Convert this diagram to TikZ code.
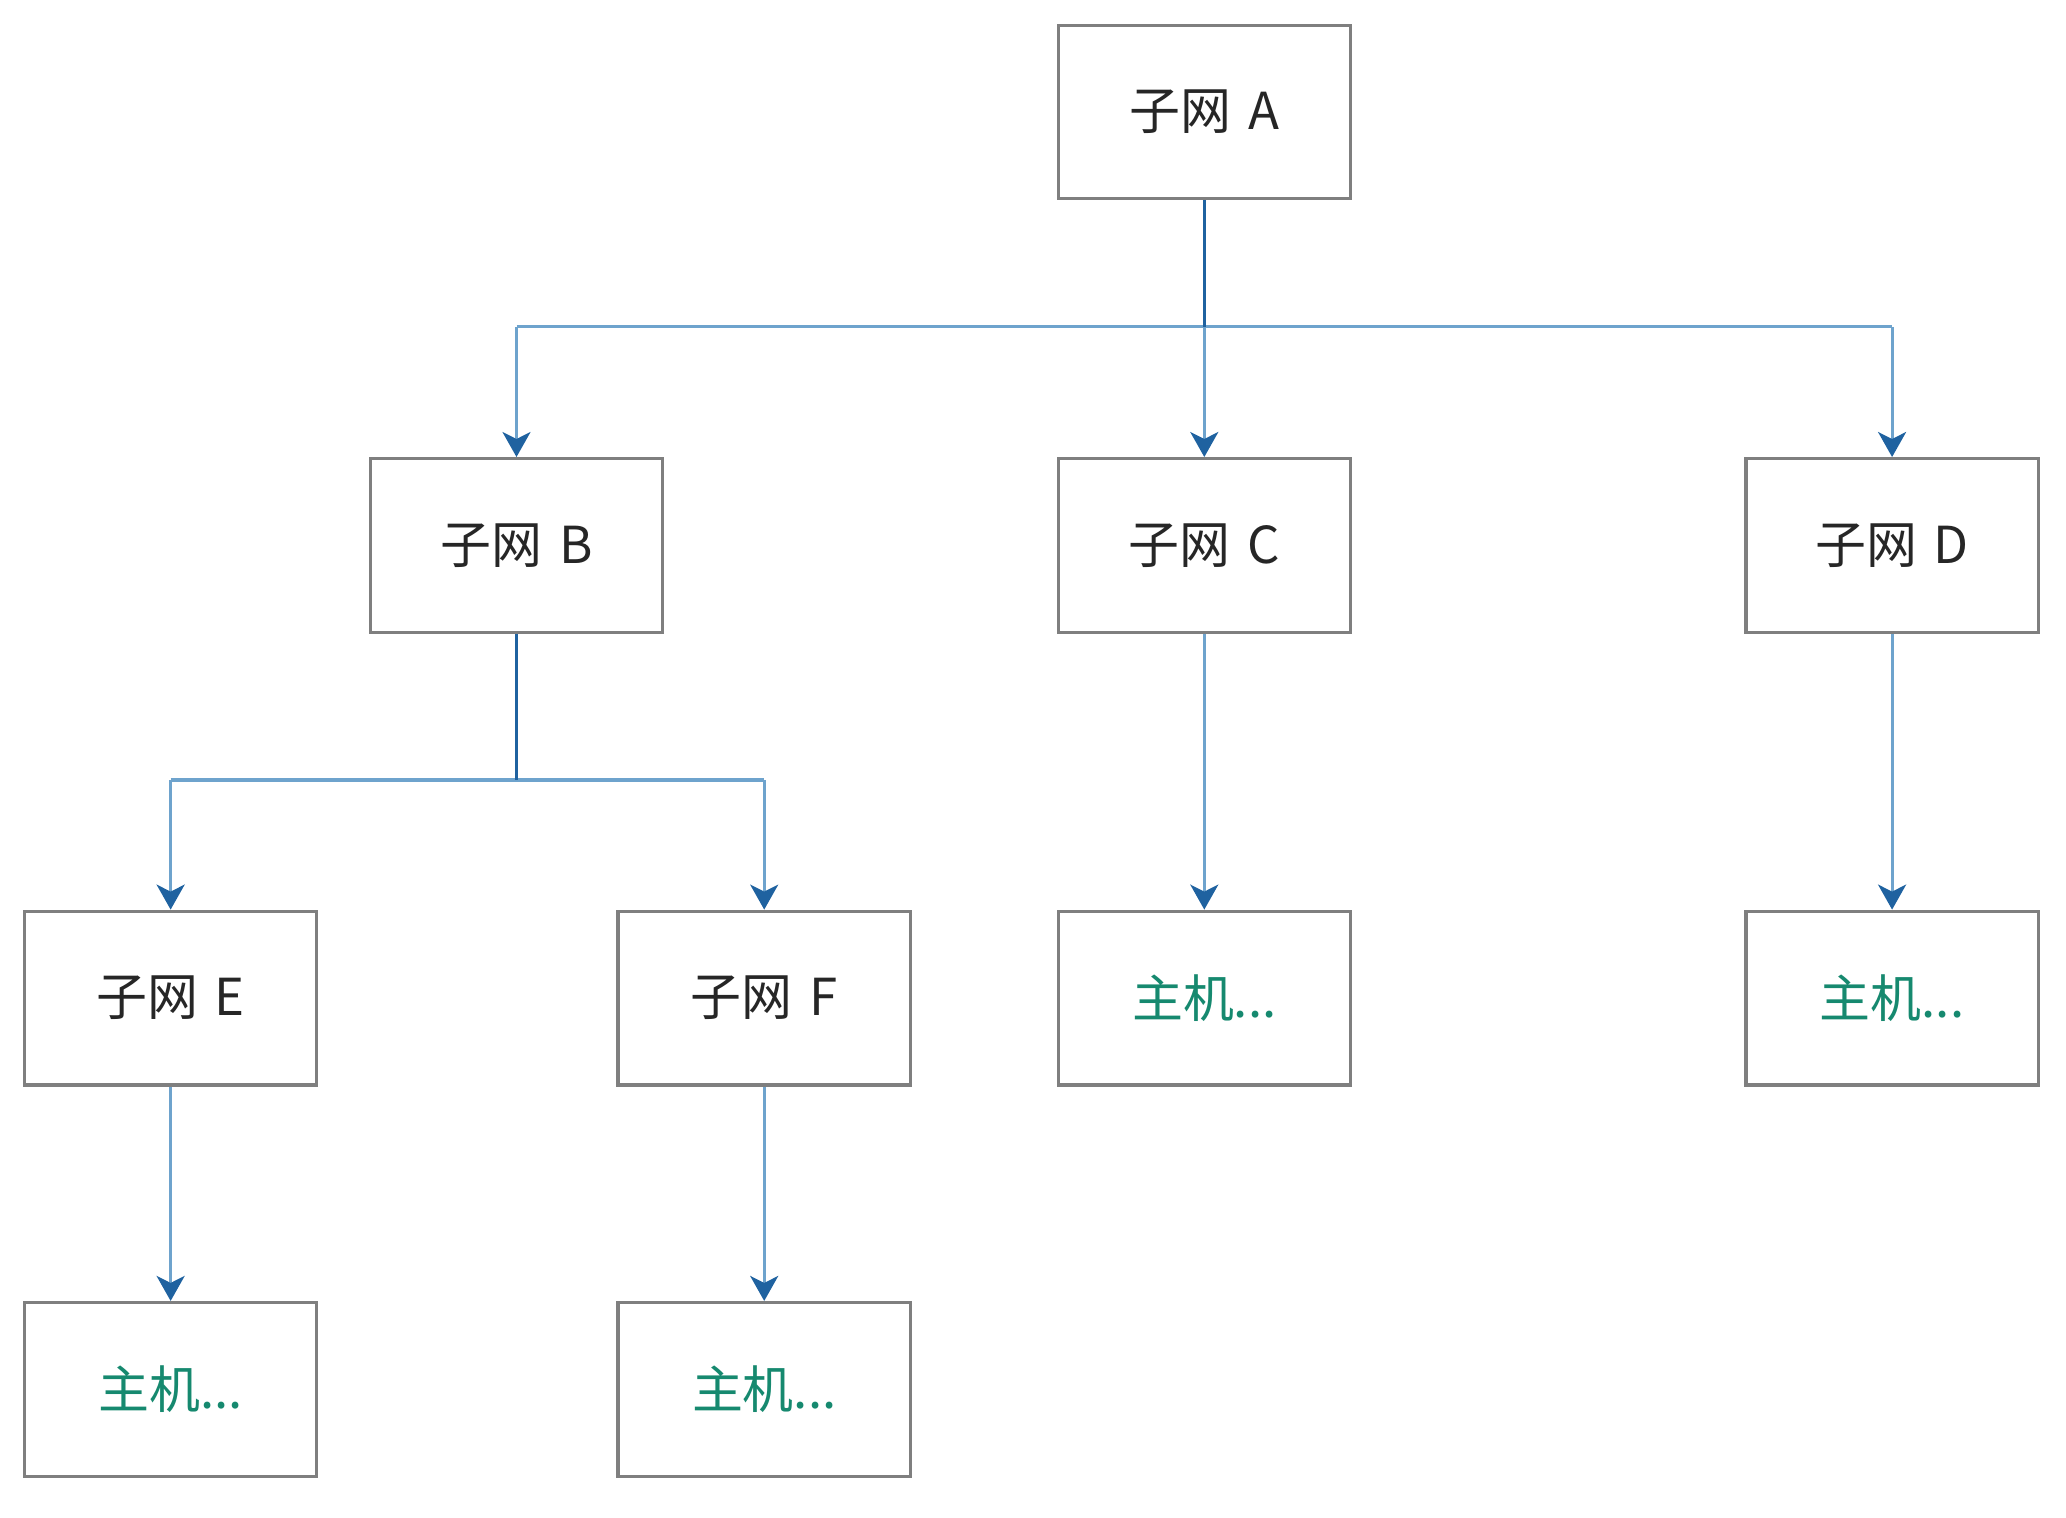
\documentclass[tikz,border=0pt]{standalone}
\usepackage{fontspec}
\setmainfont{Noto Sans CJK SC}
\usetikzlibrary{arrows.meta}

\definecolor{boxgray}{HTML}{7F7F7F}
\definecolor{stemblue}{HTML}{1F62A0}
\definecolor{linkblue}{HTML}{6EA3CD}
\definecolor{hostgreen}{HTML}{16896F}

\begin{document}
\begin{tikzpicture}[x=0.013176cm, y=-0.013176cm,
  every node/.style={font=\fontsize{14.5}{18}\selectfont},
  net/.style={draw=boxgray, line width=0.9pt, fill=white,
    minimum width=2.925cm, minimum height=1.739cm, inner sep=0pt, text=black!85},
  host/.style={net, text=hostgreen},
  stem/.style={draw=stemblue, line width=1pt},
  link/.style={draw=linkblue, line width=0.9pt},
  drop/.style={link, -{Stealth[length=2.5mm, width=2.8mm, inset=0.7mm, fill=stemblue, color=stemblue]}}]
  \useasboundingbox (0,0) rectangle (1568,1152);

  % top level
  \node[net] (A) at (914,85) {子网\hspace{0.33em}A};

  % second level
  \node[net] (B) at (392,414) {子网\hspace{0.33em}B};
  \node[net] (C) at (914,414) {子网\hspace{0.33em}C};
  \node[net] (D) at (1436,414) {子网\hspace{0.33em}D};

  % third level
  \node[net] (E) at (129.5,757.5) {子网\hspace{0.33em}E};
  \node[net] (F) at (580,757.5) {子网\hspace{0.33em}F};
  \node[host] (hC) at (914,757.5) {主机...};
  \node[host] (hD) at (1436,757.5) {主机...};

  % hosts under E and F
  \node[host] (hE) at (129.5,1054.5) {主机...};
  \node[host] (hF) at (580,1054.5) {主机...};

  % A fans out to B, C, D
  \coordinate (busA) at (914,248);
  \draw[link] (B.north |- busA) -- (D.north |- busA);
  \draw[drop] (busA) -- (C.north);
  \draw[drop] (B.north |- busA) -- (B.north);
  \draw[drop] (D.north |- busA) -- (D.north);
  \draw[stem] (A.south) -- (busA);

  % B fans out to E, F
  \coordinate (busB) at (392,592);
  \draw[link] (E.north |- busB) -- (F.north |- busB);
  \draw[drop] (E.north |- busB) -- (E.north);
  \draw[drop] (F.north |- busB) -- (F.north);
  \draw[stem] (B.south) -- (busB);

  % down to the hosts
  \draw[drop] (C.south) -- (hC.north);
  \draw[drop] (D.south) -- (hD.north);
  \draw[drop] (E.south) -- (hE.north);
  \draw[drop] (F.south) -- (hF.north);
\end{tikzpicture}
\end{document}
